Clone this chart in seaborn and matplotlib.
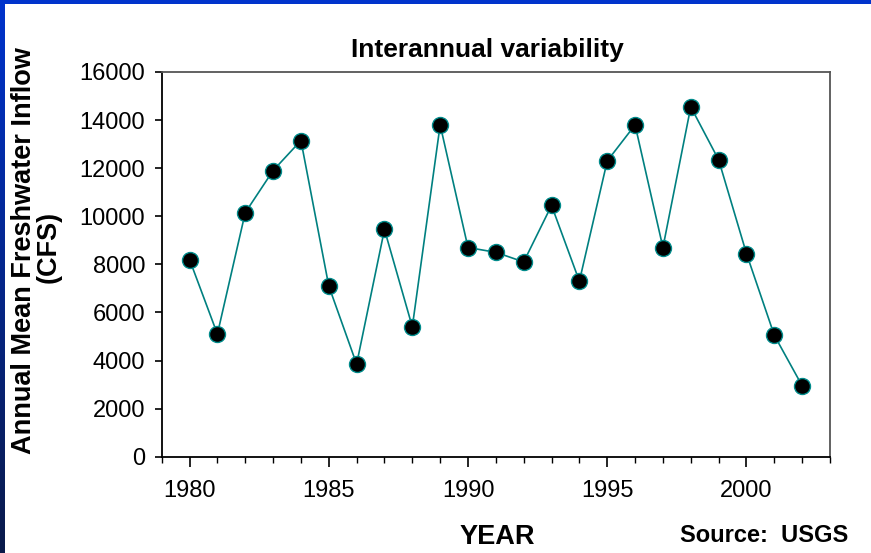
import numpy as np
import pandas as pd
import matplotlib
matplotlib.use("Agg")
import matplotlib.pyplot as plt
from matplotlib.patches import Rectangle
from matplotlib.ticker import MultipleLocator
import seaborn as sns

years = [1980, 1981, 1982, 1983, 1984, 1985, 1986, 1987, 1988, 1989, 1990,
         1991, 1992, 1993, 1994, 1995, 1996, 1997, 1998, 1999, 2000, 2001, 2002]
inflow = [8200, 5100, 10150, 11900, 13150, 7100, 3850, 9450, 5400, 13800, 8700,
          8500, 8100, 10450, 7300, 12300, 13800, 8700, 14550, 12350, 8450, 5050, 2950]
y_ticks = [0, 2000, 4000, 6000, 8000, 10000, 12000, 14000, 16000]
x_major = [1980, 1985, 1990, 1995, 2000]

df = pd.DataFrame({"year": years, "inflow": inflow})

sns.set_theme(style="white")
plt.rcParams["font.family"] = ["Liberation Sans", "DejaVu Sans"]

W, H = 871, 553
fig = plt.figure(figsize=(W / 100, H / 100), dpi=100)
fig.patch.set_facecolor("white")

# slide frame: blue strip on top, shaded strip down the left edge
fig.add_artist(Rectangle((0, 1 - 4 / H), 1, 4 / H, transform=fig.transFigure,
                         facecolor="#0033cc", edgecolor="none", zorder=5))
gax = fig.add_axes([0, 0, 4 / W, 1 - 4 / H])
grad = np.linspace(0, 1, 256).reshape(-1, 1)
cmap = matplotlib.colors.LinearSegmentedColormap.from_list("edge", ["#0033cc", "#0a1a4a"])
gax.imshow(grad, aspect="auto", cmap=cmap, extent=[0, 1, 0, 1], origin="upper")
gax.set_axis_off()

ax = fig.add_axes([161.7 / W, (H - 456.7) / H, (830 - 161.7) / W, (456.7 - 72) / H])
ax.set_facecolor("white")

sns.lineplot(data=df, x="year", y="inflow", ax=ax, color="#008080", linewidth=1.2,
             marker="o", markersize=11.5, markerfacecolor="black",
             markeredgecolor="#008b8b", markeredgewidth=1.0)

ax.set_xlim(1979, 2003)
ax.set_ylim(0, 16000)
ax.set_yticks(y_ticks)
ax.set_yticklabels([str(v) for v in y_ticks])
ax.set_xticks(x_major)
ax.set_xticklabels([str(v) for v in x_major])
ax.xaxis.set_minor_locator(MultipleLocator(1))

for s in ax.spines.values():
    s.set_color("black")
    s.set_linewidth(1.3)
ax.spines["right"].set_color("#555555")
ax.spines["top"].set_color("#555555")

ax.tick_params(axis="y", which="major", direction="out", length=5, width=1.2,
               left=True, labelsize=17, pad=7, colors="black")
ax.tick_params(axis="x", which="major", direction="out", length=7, width=1.2,
               bottom=True, labelsize=17, pad=10, colors="black")
ax.tick_params(axis="x", which="minor", direction="out", length=4, width=1.0,
               bottom=True, colors="black")

ax.set_xlabel("")
ax.set_ylabel("")

fig.text(487 / W, 1 - 50 / H, "Interannual variability", ha="center", va="center",
         fontsize=19, fontweight="bold", color="black")
# two-line vertical axis title, each line placed on its own
fig.text(24 / W, 1 - 251 / H, "Annual Mean Freshwater Inflow", ha="center",
         va="center", rotation=90, fontsize=19.5, fontweight="bold", color="black")
fig.text(49 / W, 1 - 247 / H, "(CFS)", ha="center",
         va="center", rotation=90, fontsize=19.5, fontweight="bold", color="black")
fig.text(497 / W, 1 - 537 / H, "YEAR", ha="center", va="center",
         fontsize=19.5, fontweight="bold", color="black")
fig.text(764 / W, 1 - 536 / H, "Source:  USGS", ha="center", va="center",
         fontsize=17, fontweight="bold", color="black")

fig.savefig("out.png", dpi=100, facecolor="white")
